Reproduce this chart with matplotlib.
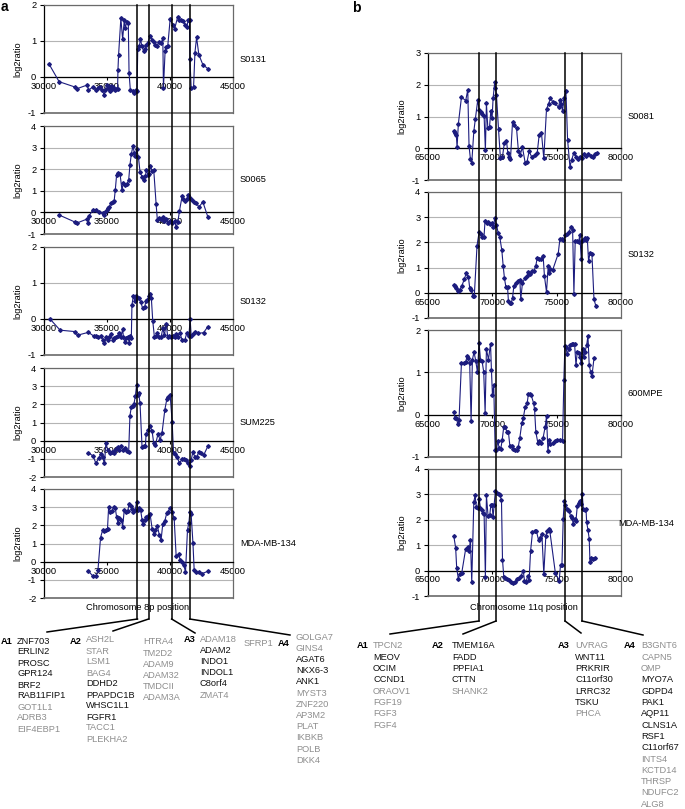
import matplotlib
matplotlib.use("Agg")
import matplotlib.pyplot as plt
from matplotlib.lines import Line2D

plt.rcParams['font.family'] = ['Liberation Sans', 'DejaVu Sans']
plt.rcParams['axes.unicode_minus'] = False

# ---------------- data ----------------
S0131_A = [(30400, 0.36), (31200, -0.13), (32470, -0.28), (32580, -0.33), (33450, -0.22), (33530, -0.37),
           (33850, -0.28), (34120, -0.37), (34300, -0.30), (34450, -0.27), (34580, -0.35), (34780, -0.49),
           (34880, -0.35), (34970, -0.21), (35100, -0.30), (35200, -0.38), (35300, -0.25), (35400, -0.32),
           (35500, -0.28), (35600, -0.36), (35700, -0.33), (35840, -0.33), (35870, 0.20), (35920, 0.62),
           (36100, 1.63), (36240, 1.05), (36370, 1.57), (36450, 1.36), (36560, 1.52), (36690, 1.50),
           (36750, 0.11), (36850, -0.35), (37040, -0.40), (37170, -0.44), (37300, -0.37), (37380, -0.40),
           (37440, 0.78), (37570, 0.85), (37650, 1.05), (37780, 0.85), (37910, 0.71), (38020, 0.78),
           (38100, 0.90), (38230, 0.94), (38420, 1.15), (38580, 1.02), (38710, 0.96), (38840, 0.90),
           (38950, 0.85), (39100, 0.96), (39290, 0.94), (39430, 1.08), (39480, -0.30), (39610, 0.71),
           (39690, 0.83), (39820, 0.85), (40010, 1.60), (40220, 1.45), (40360, 1.33), (40620, 1.68),
           (40750, 1.59), (40890, 1.57), (41070, 1.55), (41200, 1.45), (41340, 1.40), (41450, 1.59),
           (41550, 1.57), (41580, 0.50), (41680, -0.30), (41870, -0.28), (41980, 0.68), (42110, 1.10),
           (42290, 0.62), (42610, 0.34), (43010, 0.23)]

S0065_A = [(31200, -0.12), (32470, -0.45), (32580, -0.50), (33450, -0.30), (33530, -0.50), (33580, -0.15),
           (33900, 0.12), (34120, 0.10), (34380, 0.02), (34650, -0.03), (34780, -0.14), (34860, 0.00),
           (34970, 0.12), (35070, 0.22), (35180, 0.25), (35310, 0.43), (35440, 0.48), (35570, 0.55),
           (35660, 1.05), (35760, 1.72), (35870, 1.83), (36030, 1.80), (36190, 1.02), (36290, 1.37),
           (36400, 1.26), (36560, 1.30), (36720, 1.49), (36820, 2.19), (36930, 2.70), (37060, 3.07),
           (37170, 2.76), (37250, 2.60), (37350, 2.92), (37490, 2.58), (37620, 1.88), (37780, 1.65),
           (37910, 1.52), (38050, 1.68), (38120, 1.96), (38260, 1.72), (38350, 1.80), (38440, 2.14),
           (38580, 1.93), (38710, 1.96), (38900, 0.37), (39000, -0.37), (39160, -0.25), (39290, -0.30),
           (39430, -0.19), (39560, -0.40), (39690, -0.30), (39820, -0.50), (40010, -0.38), (40170, -0.50),
           (40360, -0.40), (40490, -0.68), (40620, -0.45), (40750, 0.06), (40960, 0.75), (41070, 0.64),
           (41180, 0.53), (41340, 0.64), (41450, 0.79), (41600, 0.68), (41760, 0.59), (41920, 0.48),
           (42080, 0.45), (42290, 0.25), (42610, 0.48), (43010, -0.22)]

S0132_A = [(30480, 0.00), (31280, -0.31), (32470, -0.35), (32660, -0.45), (33530, -0.37), (33930, -0.47),
           (34120, -0.47), (34270, -0.51), (34510, -0.47), (34650, -0.57), (34800, -0.68), (34910, -0.51),
           (35040, -0.58), (35180, -0.49), (35310, -0.42), (35440, -0.58), (35570, -0.54), (35710, -0.51),
           (35840, -0.47), (35970, -0.40), (36110, -0.49), (36240, -0.29), (36300, -0.49), (36400, -0.63),
           (36510, -0.54), (36640, -0.49), (36770, -0.66), (36850, -0.47), (36930, -0.54), (36980, 0.39),
           (37090, 0.64), (37200, 0.51), (37300, 0.65), (37410, 0.58), (37510, 0.58), (37670, 0.48),
           (37830, 0.30), (37990, 0.34), (38100, 0.51), (38200, 0.53), (38340, 0.64), (38440, 0.70),
           (38520, 0.58), (38630, -0.05), (38760, -0.49), (38900, -0.47), (39000, -0.40), (39160, -0.49),
           (39290, -0.51), (39430, -0.26), (39560, -0.45), (39690, -0.14), (39820, -0.49), (39960, -0.47),
           (40090, -0.51), (40220, -0.47), (40360, -0.49), (40490, -0.42), (40620, -0.49), (40780, -0.38),
           (40960, -0.58), (41180, -0.58), (41340, -0.38), (41500, -0.47), (41600, -0.01), (41680, -0.47),
           (41820, -0.42), (41950, -0.35), (42210, -0.40), (42660, -0.38), (43010, -0.21)]

SUM225_A = [(33530, -0.66), (33900, -0.85), (34120, -1.25), (34330, -0.97), (34510, -0.74), (34650, -0.92),
            (34800, -1.25), (34910, -0.15), (35070, -0.52), (35230, -0.66), (35390, -0.61), (35520, -0.66),
            (35650, -0.52), (35760, -0.42), (35870, -0.37), (35970, -0.52), (36110, -0.30), (36240, -0.52),
            (36400, -0.42), (36560, -0.55), (36720, -0.61), (36820, 1.37), (36930, 1.85), (37040, 1.92),
            (37140, 2.03), (37250, 2.44), (37350, 3.08), (37440, 2.53), (37510, 2.62), (37620, 2.07),
            (37780, -0.33), (37910, -0.30), (38050, -0.30), (38100, 0.37), (38260, 0.59), (38420, 0.81),
            (38580, 0.52), (38710, -0.15), (38840, -0.24), (39050, 0.37), (39210, 0.04), (39370, 0.44),
            (39590, 1.70), (39750, 2.29), (39850, 2.40), (40010, 2.53), (40170, 1.05), (40280, -0.66),
            (40410, -0.74), (40540, -0.89), (40750, -1.22), (40960, -1.03), (41100, -1.03), (41280, -1.07),
            (41450, -1.25), (41600, -1.40), (41680, -1.07), (41820, -0.61), (41980, -0.92), (42130, -0.89),
            (42290, -0.61), (42480, -0.66), (42660, -0.81), (43010, -0.30)]

MDA134_A = [(33530, -0.52), (33900, -0.81), (34120, -0.81), (34280, -0.48), (34490, 1.33), (34650, 1.73),
            (34780, 1.70), (34910, 1.77), (35040, 1.82), (35130, 3.02), (35260, 2.74), (35390, 2.79),
            (35520, 3.02), (35650, 2.98), (35760, 2.47), (35870, 2.14), (35970, 2.38), (36140, 2.32),
            (36240, 1.92), (36370, 2.84), (36510, 2.74), (36640, 2.79), (36770, 3.20), (36880, 3.05),
            (36980, 2.92), (37090, 2.74), (37250, 2.87), (37350, 3.30), (37460, 2.87), (37570, 2.98),
            (37670, 2.83), (37780, 2.32), (37880, 2.06), (37990, 2.28), (38100, 2.47), (38200, 2.38),
            (38310, 2.57), (38420, 2.62), (38580, 1.82), (38710, 1.55), (38840, 1.73), (39000, 1.95),
            (39160, 1.45), (39290, 1.18), (39430, 2.10), (39590, 2.25), (39750, 2.69), (39850, 2.74),
            (40010, 2.98), (40170, 2.74), (40330, 2.38), (40490, 0.29), (40680, 0.40), (40810, 0.11),
            (40960, -0.04), (41100, -0.20), (41230, -0.57), (41390, 1.77), (41500, 2.14), (41580, 2.74),
            (41680, 2.60), (41820, 1.03), (41920, -0.48), (42080, -0.57), (42290, -0.57), (42560, -0.66),
            (43010, -0.52)]

S0081_B = [(67000, 0.53), (67100, 0.49), (67200, 0.42), (67260, 0.03), (67360, 0.77), (67600, 1.61),
           (67930, 1.50), (68090, 1.84), (68190, 0.07), (68300, -0.35), (68400, -0.47), (68560, 0.53),
           (68680, 0.92), (68870, 1.53), (68970, 1.21), (69130, 1.13), (69230, 1.08), (69360, 1.02),
           (69460, -0.07), (69540, 1.42), (69650, 0.63), (69780, 0.67), (69880, 1.16), (69980, 0.95),
           (70060, 1.58), (70190, 2.10), (70240, 1.90), (70320, 1.68), (70480, 0.60), (70630, -0.32),
           (70780, -0.29), (70940, 0.18), (71100, 0.24), (71200, -0.14), (71300, -0.26), (71410, -0.35),
           (71570, 0.84), (71720, 0.74), (71880, 0.63), (72030, -0.10), (72160, -0.21), (72340, 0.03),
           (72550, -0.45), (72700, -0.42), (72860, -0.10), (73070, -0.28), (73280, -0.21), (73490, -0.14),
           (73640, 0.42), (73820, 0.47), (74000, -0.32), (74210, 1.23), (74370, 1.40), (74520, 1.58),
           (74680, 1.47), (74860, 1.42), (75150, 1.29), (75250, 1.53), (75360, 1.40), (75460, 1.16),
           (75560, 1.58), (75720, 1.79), (75850, 0.26), (76030, -0.58), (76160, -0.37), (76340, -0.14),
           (76500, -0.26), (76650, -0.35), (76810, -0.26), (76960, -0.32), (77120, -0.18), (77280, -0.24),
           (77460, -0.18), (77640, -0.24), (77790, -0.28), (77970, -0.18), (78100, -0.16)]

S0132_B = [(67000, 0.29), (67100, 0.26), (67200, 0.20), (67310, 0.07), (67460, 0.13), (67620, 0.26),
           (67830, 0.55), (67980, 0.79), (68140, 0.63), (68240, 0.20), (68370, 0.13), (68500, -0.13),
           (68600, -0.11), (68810, 1.87), (68970, 2.40), (69100, 2.35), (69230, 2.20), (69350, 2.20),
           (69430, 2.83), (69560, 2.75), (69690, 2.80), (69820, 2.73), (69950, 2.78), (70080, 2.60),
           (70190, 2.96), (70320, 2.70), (70450, 2.39), (70580, 2.21), (70740, 1.68), (70840, 1.08),
           (70940, 0.59), (71050, 0.24), (71180, 0.24), (71250, -0.33), (71360, -0.42), (71460, -0.42),
           (71570, -0.20), (71670, 0.26), (71830, 0.39), (71980, 0.46), (72140, 0.50), (72210, -0.26),
           (72340, 0.39), (72550, 0.59), (72700, 0.66), (72810, 0.82), (72920, 0.76), (73070, 0.86),
           (73230, 0.86), (73380, 1.08), (73490, 1.38), (73640, 1.34), (73800, 1.34), (73950, 1.45),
           (74050, 0.66), (74210, 0.03), (74340, 1.05), (74420, 0.79), (74520, 0.95), (74680, 0.89),
           (75120, 1.55), (75250, 2.13), (75410, 2.13), (75510, 2.08), (75670, 2.30), (75820, 2.34),
           (75980, 2.43), (76110, 2.63), (76240, 2.50), (76340, -0.03), (76440, 2.04), (76600, 2.04),
           (76700, 2.00), (76800, 2.30), (76910, 1.34), (76960, 2.04), (77070, 2.10), (77170, 2.17),
           (77280, 2.10), (77380, 2.17), (77480, 1.25), (77590, 1.58), (77740, 1.55), (77900, -0.26),
           (78050, -0.53)]

MPE600_B = [(67000, 0.06), (67100, -0.07), (67200, -0.09), (67310, -0.21), (67410, -0.13), (67600, 1.23),
            (67780, 1.22), (67930, 1.25), (68040, 1.38), (68140, 1.33), (68240, 1.22), (68350, -0.15),
            (68450, 1.30), (68580, 1.48), (68710, 1.27), (68840, 1.01), (68970, 1.70), (69080, 1.29),
            (69200, 1.27), (69330, 1.01), (69440, 0.04), (69540, 1.55), (69700, 1.30), (69860, 1.68),
            (69930, 1.05), (70010, 0.46), (70110, 0.69), (70220, -0.83), (70320, -0.84), (70420, -0.62),
            (70530, -0.78), (70660, -0.80), (70760, -0.61), (70890, -0.28), (71020, -0.28), (71120, -0.41),
            (71250, -0.41), (71360, -0.73), (71510, -0.75), (71620, -0.80), (71750, -0.84), (71880, -0.83),
            (72010, -0.77), (72140, -0.54), (72290, -0.20), (72400, -0.09), (72550, 0.18), (72710, 0.28),
            (72810, 0.50), (72920, 0.48), (73020, 0.46), (73200, 0.28), (73280, 0.14), (73380, -0.41),
            (73540, -0.67), (73640, -0.62), (73800, -0.67), (73950, -0.54), (74110, -0.28), (74210, -0.04),
            (74320, -0.86), (74420, -0.59), (74520, -0.69), (74680, -0.67), (74860, -0.62), (75040, -0.61),
            (75250, -0.59), (75460, -0.62), (75560, 0.83), (75640, 1.62), (75720, 1.59), (75820, 1.43),
            (75930, 1.54), (76030, 1.64), (76160, 1.67), (76290, 1.68), (76390, 1.68), (76500, 1.17),
            (76600, 1.48), (76700, 1.46), (76800, 1.37), (76910, 1.21), (77010, 1.56), (77100, 1.37),
            (77200, 1.48), (77330, 1.64), (77430, 1.86), (77530, 1.17), (77640, 1.01), (77740, 0.91),
            (77900, 1.33)]

MDA134_B = [(67000, 1.38), (67150, 0.89), (67230, 0.10), (67360, -0.33), (67460, -0.13), (67620, -0.10),
            (67930, 0.86), (68090, 0.92), (68190, 0.79), (68300, 1.21), (68400, -0.46), (68560, 2.70),
            (68660, 2.96), (68760, 2.50), (68870, 2.47), (68970, 2.83), (69080, 2.47), (69180, 2.37),
            (69280, 2.26), (69360, 2.24), (69460, -0.26), (69540, 2.96), (69670, 2.14), (69800, 2.18),
            (69880, 2.57), (69980, 2.57), (70060, 2.10), (70140, 2.60), (70240, 3.13), (70370, 3.05),
            (70480, 3.01), (70580, 2.96), (70710, 2.79), (70790, 0.42), (70890, -0.24), (71020, -0.29),
            (71150, -0.33), (71300, -0.37), (71460, -0.46), (71620, -0.50), (71770, -0.46), (71930, -0.33),
            (72080, -0.29), (72240, -0.20), (72400, 0.00), (72500, -0.39), (72600, -0.46), (72760, -0.20),
            (72860, -0.37), (72970, 0.76), (73120, 1.51), (73280, 1.55), (73430, 1.55), (73590, 1.20),
            (73690, 1.29), (73850, 1.45), (74000, -0.13), (74160, 1.38), (74260, 1.55), (74370, 1.64),
            (74470, 1.55), (74900, -0.10), (75200, -0.39), (75300, 0.24), (75410, 0.24), (75510, 2.04),
            (75590, 2.74), (75670, 2.60), (75770, 2.43), (75880, 2.39), (75980, 2.33), (76080, 2.14),
            (76190, 2.08), (76290, 1.84), (76390, 2.04), (76500, 1.97), (76600, 2.53), (76700, 2.66),
            (76810, 2.74), (76910, 2.63), (76990, 3.00), (77070, 2.43), (77170, 2.39), (77280, 2.43),
            (77330, 1.91), (77430, 1.61), (77530, 1.25), (77590, 0.33), (77690, 0.50), (77800, 0.45),
            (77950, 0.50)]

SAMPLES_A = ["S0131", "S0065", "S0132", "SUM225", "MDA-MB-134"]
SAMPLES_B = ["S0081", "S0132", "600MPE", "MDA-MB-134"]
YLIMS_A = [(-1, 2), (-1, 4), (-1, 2), (-2, 4), (-2, 4)]
YLIMS_B = [(-1, 3), (-1, 4), (-1, 2), (-1, 4)]
XTICKS_A = [30000, 35000, 40000, 45000]
XTICKS_B = [65000, 70000, 75000, 80000]
BOUNDS_A = [37420, 38300, 40130, 41570]
BOUNDS_B = [68960, 70290, 75650, 76970]

GENES_A1 = ["ZNF703", "ERLIN2", "PROSC", "GPR124", "BRF2", "RAB11FIP1", "GOT1L1", "ADRB3", "EIF4EBP1"]
GENES_A2 = ["ASH2L", "STAR", "LSM1", "BAG4", "DDHD2", "PPAPDC1B", "WHSC1L1", "FGFR1", "TACC1", "PLEKHA2"]
GENES_A2B = ["HTRA4", "TM2D2", "ADAM9", "ADAM32", "TMDCII", "ADAM3A"]
GENES_A3 = ["ADAM18", "ADAM2", "INDO1", "INDOL1", "C8orf4", "ZMAT4"]
GENES_A3B = ["SFRP1"]
GENES_A4 = ["GOLGA7", "GINS4", "AGAT6", "NKX6-3", "ANK1", "MYST3", "ZNF220", "AP3M2", "PLAT", "IKBKB",
            "POLB", "DKK4"]
GENES_B1 = ["TPCN2", "MEOV", "OCIM", "CCND1", "ORAOV1", "FGF19", "FGF3", "FGF4"]
GENES_B2 = ["TMEM16A", "FADD", "PPFIA1", "CTTN", "SHANK2"]
GENES_B3 = ["UVRAG", "WNT11", "PRKRIR", "C11orf30", "LRRC32", "TSKU", "PHCA"]
GENES_B4 = ["B3GNT6", "CAPN5", "OMP", "MYO7A", "GDPD4", "PAK1", "AQP11", "CLNS1A", "RSF1", "C11orf67",
            "INTS4", "KCTD14", "THRSP", "NDUFC2", "ALG8"]
HIGHLIGHTED = {"ZNF703", "ERLIN2", "PROSC", "GPR124", "BRF2", "RAB11FIP1",
               "DDHD2", "PPAPDC1B", "WHSC1L1", "FGFR1",
               "ADAM2", "INDO1", "INDOL1", "C8orf4",
               "AGAT6", "NKX6-3", "ANK1",
               "MEOV", "OCIM", "CCND1",
               "TMEM16A", "FADD", "PPFIA1", "CTTN",
               "WNT11", "PRKRIR", "C11orf30", "LRRC32", "TSKU",
               "MYO7A", "GDPD4", "PAK1", "AQP11", "CLNS1A", "RSF1", "C11orf67"}

# ---------------- layout ----------------
W, H = 685, 809
fig = plt.figure(figsize=(W / 100, H / 100), dpi=100)
fig.patch.set_facecolor("white")


def fx(x):
    return x / W


def fy(y):
    return 1 - y / H


FS = 6.7
NAVY = "#1c1c7e"
GRAY_TXT = "#8e8e8e"


def make_axes(left, right, top, bottom):
    return fig.add_axes([fx(left), fy(bottom), fx(right) - fx(left), (bottom - top) / H])


def style(ax, data, ylim, xticks, label, label_dx, label_dy=0):
    xs = [p[0] for p in data]
    ys = [p[1] for p in data]
    ax.set_xlim(xticks[0], xticks[-1])
    ax.set_ylim(*ylim)
    ax.set_yticks(range(ylim[0], ylim[1] + 1))
    ax.set_xticks(xticks)
    ax.set_xticklabels([str(t) for t in xticks])
    ax.grid(axis='y', color='#b4b4b4', lw=0.8)
    ax.set_axisbelow(True)
    ax.spines['bottom'].set_position(('data', 0))
    ax.spines['bottom'].set_color('black')
    ax.spines['bottom'].set_linewidth(0.9)
    ax.spines['left'].set_color('black')
    ax.spines['left'].set_linewidth(0.9)
    for s in ('top', 'right'):
        ax.spines[s].set_color('#6a6a6a')
        ax.spines[s].set_linewidth(0.9)
    ax.axhline(ylim[0], color='#6a6a6a', lw=1.2, clip_on=False, zorder=3)
    ax.tick_params(axis='y', direction='out', length=3, width=0.8, pad=2.5, labelsize=FS, colors='black')
    ax.tick_params(axis='x', direction='out', length=2.5, width=0.8, pad=1.0, labelsize=FS, colors='black')
    ax.plot(xs, ys, '-', color=NAVY, lw=0.8, marker='D', ms=1.9, mec=NAVY, mfc=NAVY, zorder=4)
    ax.set_ylabel("log2ratio", fontsize=FS, labelpad=4)
    ax.text(1 + label_dx, 0.5 + label_dy, label, transform=ax.transAxes, fontsize=FS,
            ha='left', va='center')


# panel a
a_rows = [(5, 113), (126, 234), (247, 355), (368, 477), (489, 598)]
a_data = [S0131_A, S0065_A, S0132_A, SUM225_A, MDA134_A]
axes_a = []
for (t, b), d, yl, name in zip(a_rows, a_data, YLIMS_A, SAMPLES_A):
    ax = make_axes(44, 233, t, b)
    style(ax, d, yl, XTICKS_A, name, 0.037)
    axes_a.append(ax)

# panel b
b_rows = [(53, 180), (192, 318), (330, 457), (469, 596)]
b_data = [S0081_B, S0132_B, MPE600_B, MDA134_B]
axes_b = []
for i, ((t, b), d, yl, name) in enumerate(zip(b_rows, b_data, YLIMS_B, SAMPLES_B)):
    ax = make_axes(428, 621, t, b)
    if i == 3:
        style(ax, d, yl, XTICKS_B, name, -0.012, 0.07)
    else:
        style(ax, d, yl, XTICKS_B, name, 0.036)
    axes_b.append(ax)

fig.text(fx(138), fy(607), "Chromosome 8p position", fontsize=FS, ha='center', va='center')
fig.text(fx(524), fy(607), "Chromosome 11q position", fontsize=FS, ha='center', va='center')

fig.text(fx(1), fy(7), "a", fontsize=10, fontweight='bold', ha='left', va='center')
fig.text(fx(352), fy(8), "b", fontsize=10, fontweight='bold', ha='left', va='center')


def data_to_figx(ax, x):
    disp = ax.transData.transform((x, 0))
    return fig.transFigure.inverted().transform(disp)[0]


def bracket(ax, xval, ytop, yend, tx, ty):
    x0 = data_to_figx(ax, xval)
    fig.add_artist(Line2D([x0, x0], [fy(ytop), fy(yend)], color='black', lw=1.1, zorder=10))
    fig.add_artist(Line2D([x0, fx(tx)], [fy(yend), fy(ty)], color='black', lw=1.1, zorder=10))


a_targets = [(47, 632), (113, 631), (195, 633), (290, 635)]
for xv, (tx, ty) in zip(BOUNDS_A, a_targets):
    bracket(axes_a[0], xv, 5, 619, tx, ty)

b_targets = [(390, 634), (463, 634), (581, 633), (643, 635)]
for xv, (tx, ty) in zip(BOUNDS_B, b_targets):
    bracket(axes_b[0], xv, 53, 621, tx, ty)


def gene_col(names, x, y0, step):
    for k, g in enumerate(names):
        col = '#111111' if g in HIGHLIGHTED else GRAY_TXT
        fig.text(fx(x), fy(y0 + k * step), g, fontsize=FS, color=col, ha='left', va='center')


def header(txt, x, y):
    fig.text(fx(x), fy(y), txt, fontsize=FS, fontweight='bold', ha='left', va='center')


header("A1", 1, 641)
gene_col(GENES_A1, 17, 641, 11.0)
header("A2", 70, 641)
gene_col(GENES_A2, 86, 640, 11.0)
gene_col(GENES_A2B, 143, 642, 11.2)
header("A3", 184, 639)
gene_col(GENES_A3, 200, 639, 11.2)
gene_col(GENES_A3B, 244, 643, 11.2)
header("A4", 278, 643)
gene_col(GENES_A4, 296, 637, 11.2)

header("A1", 357, 646)
gene_col(GENES_B1, 373, 646, 11.3)
header("A2", 432, 646)
gene_col(GENES_B2, 452, 646, 11.3)
header("A3", 558, 646)
gene_col(GENES_B3, 575, 646, 11.3)
header("A4", 624, 646)
gene_col(GENES_B4, 641, 646, 11.3)

fig.savefig("out.png", dpi=100, facecolor="white")
